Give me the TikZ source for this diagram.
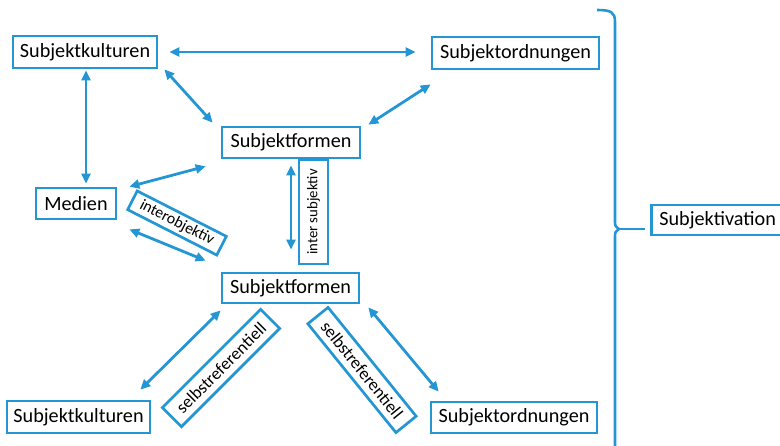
\documentclass[tikz,border=0pt]{standalone}
\usepackage{fontspec}
\setmainfont{Carlito}
\usetikzlibrary{calc,arrows.meta}
\definecolor{sblue}{RGB}{36,150,212}
\begin{document}
\begin{tikzpicture}[x=1pt,y=-1pt,
  box/.style={draw=sblue, line width=2.7pt, inner sep=0pt, text=black, font=\fontsize{20.2}{22}\selectfont},
  lbl/.style={draw=sblue, line width=2.7pt, inner sep=0pt, text=black},
  arr/.style={draw=sblue, line width=2.8pt, {Triangle[length=10pt,width=9pt]}-{Triangle[length=10pt,width=9pt]}}]
\useasboundingbox (0,0) rectangle (780,445);
\clip (0,0) rectangle (780,445);
% main boxes
\node[box, minimum width=144pt, minimum height=32pt] (sk1) at (85,52) {Subjektkulturen};
\node[box, minimum width=167pt, minimum height=32pt] (so1) at (515.5,53) {Subjektordnungen};
\node[box, minimum width=138pt, minimum height=31pt] (sf1) at (291,142.5) {Subjektformen};
\node[box, minimum width=80pt, minimum height=31pt] (med) at (76,203.5) {Medien};
\node[box, minimum width=137pt, minimum height=30pt] (sf2) at (290.5,288) {Subjektformen};
\node[box, minimum width=143pt, minimum height=32pt] (sk2) at (78.5,417) {Subjektkulturen};
\node[box, minimum width=166pt, minimum height=31pt] (so2) at (514,417.5) {Subjektordnungen};
\node[box, anchor=west, inner xsep=8pt, text width=122pt, align=left, minimum height=30pt] (sv) at (650,220) {Subjektivation};
% rotated labels
\node[lbl, font=\fontsize{14.8}{16}\selectfont, minimum width=104pt, minimum height=29pt, rotate=90] (isub) at (313.5,212) {inter subjektiv};
\node[lbl, font=\fontsize{15.8}{17}\selectfont, minimum width=100pt, minimum height=21pt, rotate=-27] (iobj) at (177,223) {interobjektiv};
\node[lbl, font=\fontsize{17.5}{19}\selectfont, minimum width=139pt, minimum height=27pt, rotate=45] (sr1) at (221,368) {selbstreferentiell};
\node[lbl, font=\fontsize{17.5}{19}\selectfont, minimum width=140pt, minimum height=26pt, rotate=-51] (sr2) at (362,370) {selbstreferentiell};
% arrows
\draw[arr] ($(sk1.east)+(11,0)$) -- ($(so1.west)+(-15,-1)$);
\draw[arr] ($(sk1.south east)+(6,0)$) -- ($(sf1.north west)+(-8,-3)$);
\draw[arr] ($(sk1.south)+(1,1)$) -- ($(med.north)+(10,-3)$);
\draw[arr] ($(so1.south west)+(0,14)$) -- ($(sf1.north east)+(7,-1)$);
\draw[arr] ($(med.north east)+(12,0)$) -- ($(sf1.south west)+(-15,7)$);
\draw[arr] ($(med.south east)+(12,9)$) -- ($(sf2.north west)+(-15,-11)$);
\draw[arr] ($(sf1.south)+(0,6)$) -- ($(sf2.north)+(0.5,-22)$);
\draw[arr] ($(sf2.south west)+(0,6)$) -- ($(sk2.north east)+(-11,-10)$);
\draw[arr] ($(sf2.south east)+(8,3)$) -- ($(so2.north west)+(9,-9)$);
% brace
\coordinate (cusp) at (619,229);
\draw[sblue, line width=2.6pt] (597,10) .. controls (611,10) and (615,12) .. (615,22)
  -- (615,220) .. controls (615,226) .. (cusp) .. controls (615,232) .. (615,238) -- (615,450);
\draw[sblue, line width=2.6pt] (cusp) -- ($(cusp -| sv.west)+(-5,0)$);
\end{tikzpicture}
\end{document}
